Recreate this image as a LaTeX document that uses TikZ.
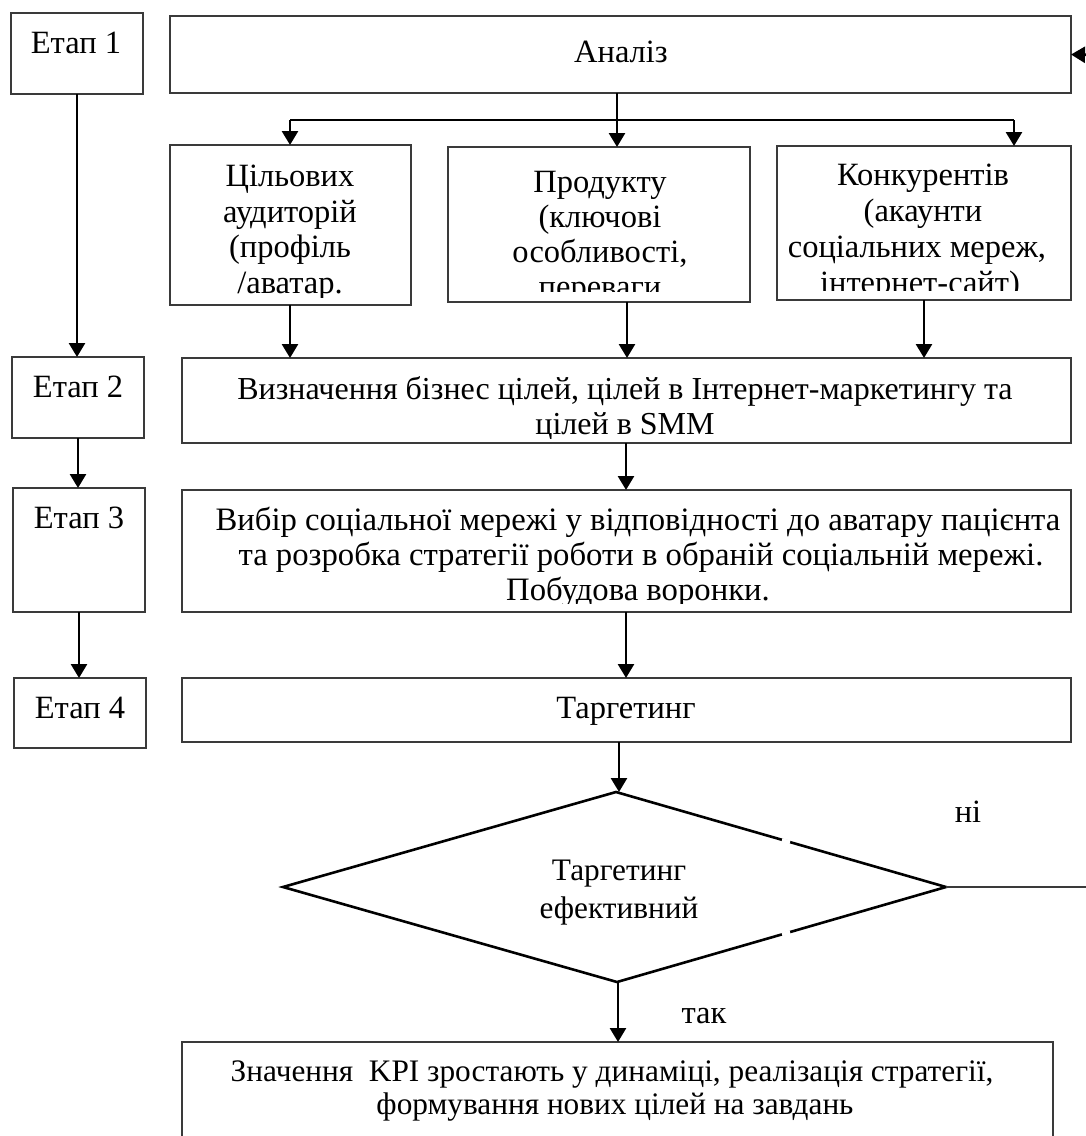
\documentclass[tikz,border=0pt]{standalone}
\usepackage{fontspec}
\setmainfont{Liberation Serif}
\usetikzlibrary{arrows.meta}
\definecolor{edgegray}{HTML}{3A3A3A}
\begin{document}
\begin{tikzpicture}[x=1pt,y=-1pt,
  boxnode/.style={draw=edgegray, line width=1.4pt, inner sep=0pt, outer sep=0pt, anchor=north west},
  flow/.style={line width=2.6pt, -{Triangle[length=14pt,width=16pt]}},
  thinline/.style={line width=2pt},
  txt/.style={font=\fontsize{32.5}{36}\selectfont, inner sep=0pt, anchor=base},
  wide/.style={font=\fontsize{32}{36}\selectfont},
  wider/.style={font=\fontsize{32.7}{36}\selectfont},
  low/.style={font=\fontsize{31.3}{36}\selectfont},
]
\useasboundingbox (0,0) rectangle (1086,1136);

% stage boxes on the left
\node[boxnode, minimum width=132pt, minimum height=81pt]  (e1) at (11,13) {};
\node[boxnode, minimum width=132pt, minimum height=81pt]  (e2) at (12,357) {};
\node[boxnode, minimum width=132pt, minimum height=124pt] (e3) at (13,488) {};
\node[boxnode, minimum width=132pt, minimum height=70pt]  (e4) at (14,678) {};
\node[txt] (e1t) at (76,53)  {Етап 1};
\node[txt] (e2t) at (78,397) {Етап 2};
\node[txt] (e3t) at (79,528) {Етап 3};
\node[txt] (e4t) at (80,718) {Етап 4};

% main column
\node[boxnode, minimum width=901pt, minimum height=77pt]  (A)  at (170,16) {};
\node[boxnode, minimum width=241pt, minimum height=160pt] (C1) at (170,145) {};
\node[boxnode, minimum width=302pt, minimum height=155pt] (C2) at (448,147) {};
\node[boxnode, minimum width=294pt, minimum height=154pt] (C3) at (777,146) {};
\node[boxnode, minimum width=889pt, minimum height=85pt]  (G)  at (182,358) {};
\node[boxnode, minimum width=889pt, minimum height=122pt] (V)  at (182,490) {};
\node[boxnode, minimum width=889pt, minimum height=64pt]  (T)  at (182,678) {};
\node[boxnode, minimum width=871pt, minimum height=130pt] (K)  at (182,1042) {};

\node[txt] (At) at (621,62) {Аналіз};

\begin{scope}
  \clip (171,146) rectangle (410,297);
  \node[txt] at (290,186) {Цільових};
  \node[txt] at (290,222) {аудиторій};
  \node[txt] at (290,257) {(профіль};
  \node[txt] at (290,293) {/аватар.};
\end{scope}
\begin{scope}
  \clip (449,148) rectangle (749,291);
  \node[txt] at (600,192) {Продукту};
  \node[txt] at (600,227) {(ключові};
  \node[txt] at (600,262) {особливості,};
  \node[txt] at (600,297) {переваги};
\end{scope}
\begin{scope}
  \clip (778,147) rectangle (1070,290);
  \node[txt] at (923,185) {Конкурентів};
  \node[txt] at (923,221) {(акаунти};
  \node[txt] at (917,257) {соціальних мереж,};
  \node[txt] at (920,293) {інтернет-сайт)};
\end{scope}
\begin{scope}
  \clip (183,359) rectangle (1070,438);
  \node[txt,wide] at (625,399) {Визначення бізнес цілей, цілей в Інтернет-маркетингу та};
  \node[txt,wide] at (625,434) {цілей в SMM};
\end{scope}
\begin{scope}
  \clip (183,491) rectangle (1070,603);
  \node[txt,wider] at (638,530) {Вибір соціальної мережі у відповідності до аватару пацієнта};
  \node[txt,wider] at (641,565) {та розробка стратегії роботи в обраній соціальній мережі.};
  \node[txt,wider] at (638,600) {Побудова воронки.};
\end{scope}
\node[txt] (Tt) at (626,718) {Таргетинг};
\node[txt,low] at (612,1081) {Значення\ \ KPI зростають у динаміці, реалізація стратегії,};
\node[txt,low] at (615,1114) {формування нових цілей на завдань};

% decision
\coordinate (dtop) at (616,792);
\coordinate (dright) at (946,887);
\coordinate (dbot) at (617,982);
\coordinate (dleft) at (283,887);
\draw[line width=2.6pt, line join=miter] (dtop) -- (dright) -- (dbot) -- (dleft) -- cycle;
\draw[white, line width=4pt] (782,840) -- (790,842.3);
\draw[white, line width=4pt] (782,934.4) -- (790,932.1);
\node[txt,low] (Dt1) at (619,880) {Таргетинг};
\node[txt,low] (Dt2) at (619,918) {ефективний};
\node[txt] (no) at (968,822) {ні};
\node[txt] (yes) at (704,1023) {так};

% connectors
\coordinate (fork) at (617,120);
\coordinate (c1in) at (290,145);
\coordinate (c2in) at (617,147);
\coordinate (c3in) at (1014,146);
\coordinate (g1) at (290,358);
\coordinate (g2) at (627,358);
\coordinate (g3) at (924,358);
\coordinate (vin) at (626,490);
\coordinate (tin) at (626,678);
\coordinate (loopin) at (1100,55);
\coordinate (loopout) at (1100,887);

\draw[flow] (e1.south) -- (e1.south |- e2.north);
\draw[flow] (e2.south) -- (e2.south |- e3.north);
\draw[flow] (e3.south) -- (e3.south |- e4.north);

\draw[flow] (A.south -| c2in) -- (c2in);
\draw[thinline] (fork -| c1in) -- (fork -| c3in);
\draw[flow] (fork -| c1in) -- (c1in);
\draw[flow] (fork -| c3in) -- (c3in);

\draw[flow] (C1.south -| g1) -- (g1);
\draw[flow] (C2.south -| g2) -- (g2);
\draw[flow] (C3.south -| g3) -- (g3);
\draw[flow] (G.south -| vin) -- (vin);
\draw[flow] (V.south -| tin) -- (tin);
\draw[flow] (T.south -| 619,0) -- (619,792);
\draw[flow] (dbot -| 618,0) -- (K.north -| 618,0);
\draw[draw=edgegray, line width=1.6pt] (dright) -- (loopout);
\draw[flow] (loopin) -- (A.east);
\end{tikzpicture}
\end{document}
